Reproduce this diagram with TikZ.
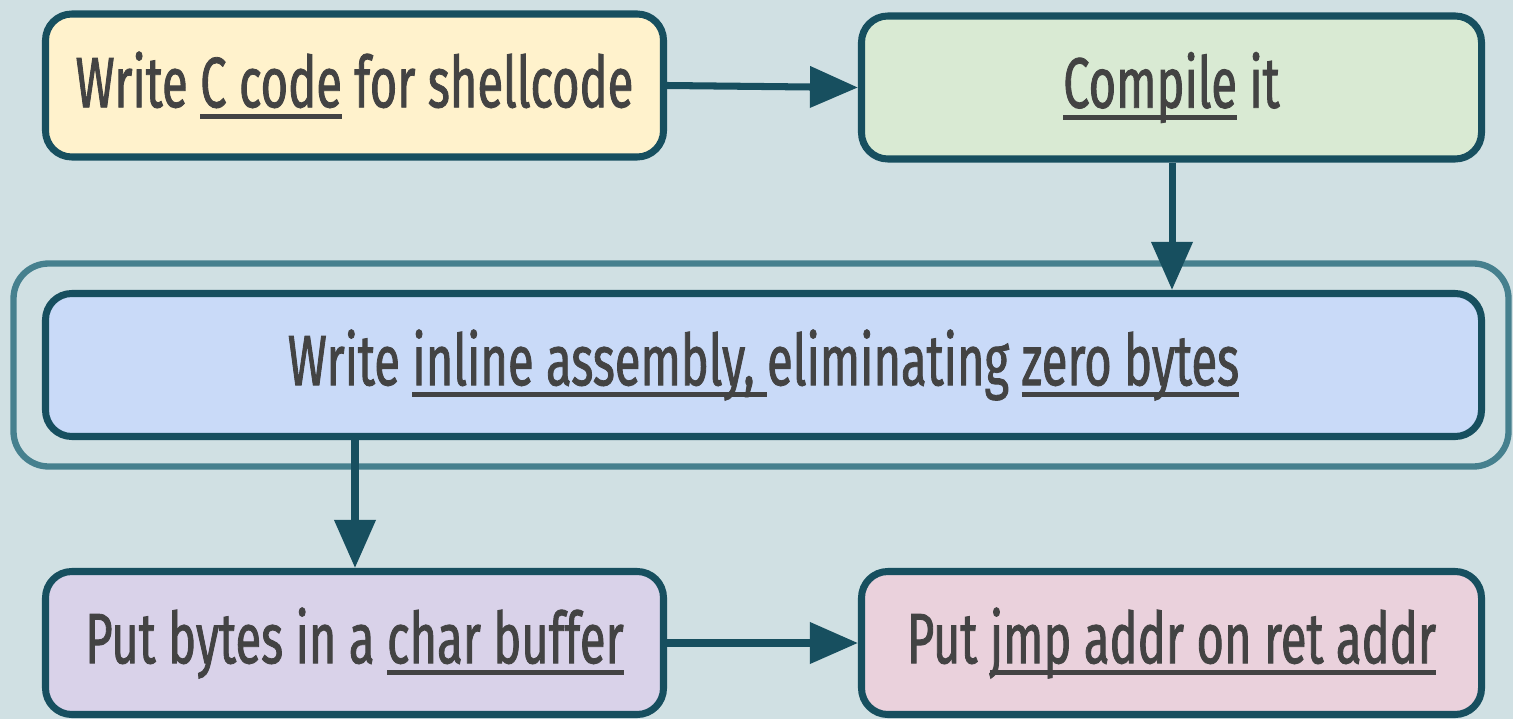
\documentclass[tikz,border=0pt]{standalone}
\usepackage{fontspec}
\setmainfont{Fira Sans}[FakeStretch=0.66, FakeBold=1.2]
\usepackage{xcolor}
\usepackage{tikz}
\usetikzlibrary{positioning, arrows.meta, calc}

\definecolor{bgcol}{HTML}{D0E0E3}
\definecolor{edgecol}{HTML}{174F5F}
\definecolor{grpcol}{HTML}{46808E}
\definecolor{txtcol}{HTML}{434343}
\definecolor{yellowfill}{HTML}{FFF2CC}
\definecolor{greenfill}{HTML}{D9EAD3}
\definecolor{bluefill}{HTML}{C9DAF8}
\definecolor{purplefill}{HTML}{D9D2E9}
\definecolor{pinkfill}{HTML}{EAD1DC}

\newcommand{\undl}[1]{\setbox0\hbox{#1}\rlap{\rule[-0.17em]{\wd0}{0.075em}}\box0\relax}

\begin{document}
\begin{tikzpicture}[
          step box/.style={draw=edgecol, line width=2pt, rounded corners=7.5pt, minimum height=1.43cm, minimum width=#1, inner sep=0pt, fill=white, font=\fontsize{20.3}{24}\selectfont, text=txtcol},
          grp/.style={draw=grpcol, line width=1.8pt, rounded corners=10pt, minimum width=14.95cm, minimum height=2.03cm},
          arr/.style={-{Triangle[length=4.8mm, width=4mm]}, line width=2pt, draw=edgecol, fill=edgecol}
        ]
        \fill[bgcol] (0,0) rectangle (15.13,-7.19);
        \useasboundingbox (0,0) rectangle (15.13,-7.19);
        \node[grp] (group) at (7.61, -3.65) {};
        \node[step box=6.18cm, fill=yellowfill] (ccode) at (3.545, -0.855) {Write \undl{C code} for shellcode};
        \node[step box=6.20cm, fill=greenfill] (compile) at (11.715, -0.875) {\undl{Compile} it};
        \node[step box=14.36cm, fill=bluefill] (inlineasm) at (7.635, -3.65) {Write \undl{inline assembly, }eliminating \undl{zero bytes}};
        \node[step box=6.18cm, fill=purplefill] (charbuf) at (3.545, -6.43) {Put bytes in a \undl{char buffer}};
        \node[step box=6.20cm, fill=pinkfill] (retaddr) at (11.715, -6.43) {Put \undl{jmp addr on ret addr}};
        \draw[arr] (ccode.east) -- (compile.west);
        \draw[arr] (compile.south -| 11.72,0) -- (inlineasm.north -| 11.72,0);
        \draw[arr] (inlineasm.south -| 3.55,0) -- (charbuf.north -| 3.55,0);
        \draw[arr] (charbuf.east) -- (retaddr.west);
\end{tikzpicture}
\end{document}
